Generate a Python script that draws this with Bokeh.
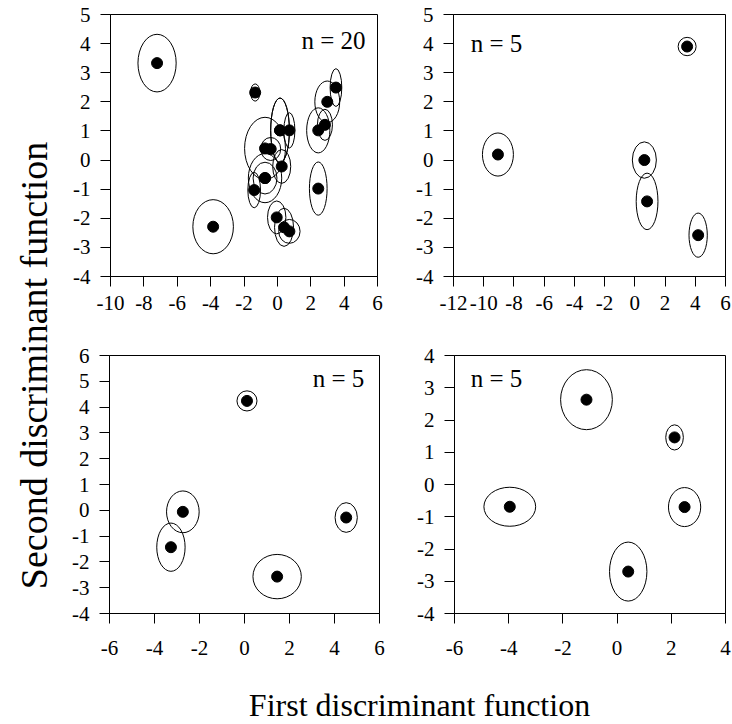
import math
from bokeh.plotting import figure
from bokeh.layouts import row, column
from bokeh.models import FixedTicker, Label, ColumnDataSource, CustomJSTickFormatter
from bokeh.embed import file_html
from bokeh.resources import INLINE

FONT = "Liberation Serif"
TICK_FONT = "'Liberation Serif', 'Times New Roman', serif"

# ---------------- data ----------------
# Panel 1 (n = 20)
p1_x = [-7.21, -3.85, -1.33, 2.45, 2.85, 2.99, 3.51, 2.45, 0.16, 0.72,
        -0.74, -0.40, 0.26, -0.74, -0.74, -1.39, -0.04, 0.40, 0.72, 0.16]
p1_y = [3.33, -2.29, 2.32, 1.02, 1.21, 2.00, 2.49, -0.98, 1.02, 1.02,
        0.40, 0.38, -0.22, -0.62, -0.62, -1.03, -1.97, -2.31, -2.45, 1.02]
p1_w = [2.29, 2.43, 0.56, 1.39, 0.90, 1.49, 0.70, 1.06, 1.12, 0.66,
        2.45, 1.20, 1.08, 1.43, 2.00, 0.76, 1.10, 1.14, 1.28, 1.12]
p1_h = [1.98, 1.86, 0.59, 1.55, 1.07, 1.43, 1.30, 1.83, 2.22, 1.21,
        2.14, 0.79, 1.16, 1.09, 1.69, 1.22, 1.13, 1.31, 0.82, 2.22]

# Panel 2 (n = 5)
p2_x = [3.46, -9.06, 0.63, 0.81, 4.19]
p2_y = [3.90, 0.19, 0.00, -1.42, -2.58]
p2_w = [1.19, 2.05, 1.59, 1.44, 1.21]
p2_h = [0.63, 1.48, 1.25, 1.94, 1.52]

# Panel 3 (n = 5)
p3_x = [0.11, -2.74, -3.27, 1.45, 4.52]
p3_y = [4.24, -0.06, -1.43, -2.57, -0.28]
p3_w = [0.89, 1.45, 1.26, 2.15, 0.99]
p3_h = [0.78, 1.62, 1.87, 1.72, 1.15]

# Panel 4 (n = 5)
p4_x = [-1.13, 2.12, -3.96, 2.49, 0.41]
p4_y = [2.63, 1.46, -0.69, -0.70, -2.70]
p4_w = [1.91, 0.65, 1.91, 1.19, 1.38]
p4_h = [1.86, 0.78, 1.21, 1.21, 1.83]

p1_xticks = [-10, -8, -6, -4, -2, 0, 2, 4, 6]
p1_yticks = [-4, -3, -2, -1, 0, 1, 2, 3, 4, 5]
p2_xticks = [-12, -10, -8, -6, -4, -2, 0, 2, 4, 6]
p2_yticks = [-4, -3, -2, -1, 0, 1, 2, 3, 4, 5]
p3_xticks = [-6, -4, -2, 0, 2, 4, 6]
p3_yticks = [-4, -3, -2, -1, 0, 1, 2, 3, 4, 5, 6]
p4_xticks = [-6, -4, -2, 0, 2, 4]
p4_yticks = [-4, -3, -2, -1, 0, 1, 2, 3, 4]

n_labels = ["n = 20", "n = 5", "n = 5", "n = 5"]
x_title = "First discriminant function"
y_title = "Second discriminant function"


def panel(xs, ys, ws, hs, xticks, yticks, label, label_pos,
          width, height, bl, br, bt, bb, xstand):
    p = figure(width=width, height=height,
               x_range=(xticks[0], xticks[-1]), y_range=(yticks[0], yticks[-1]),
               toolbar_location=None, output_backend="svg",
               min_border_left=bl, min_border_right=br,
               min_border_top=bt, min_border_bottom=bb)
    p.grid.visible = False
    p.outline_line_color = "black"
    p.outline_line_width = 1
    p.background_fill_color = "white"
    p.border_fill_color = "white"
    for ax, ticks in ((p.xaxis[0], xticks), (p.yaxis[0], yticks)):
        ax.ticker = FixedTicker(ticks=ticks)
        ax.formatter = CustomJSTickFormatter(code="return tick.toString();")
        ax.minor_tick_line_color = None
        ax.major_tick_in = 0
        ax.major_tick_out = 10
        ax.major_tick_line_color = "black"
        ax.axis_line_color = "black"
        ax.major_label_text_font = TICK_FONT
        ax.major_label_text_font_size = "21px"
        ax.major_label_text_color = "black"
    p.xaxis[0].major_label_standoff = xstand
    p.yaxis[0].major_label_standoff = 10
    src = ColumnDataSource(dict(x=xs, y=ys, w=ws, h=hs))
    p.ellipse(x="x", y="y", width="w", height="h", source=src,
              fill_color=None, line_color="black", line_width=1)
    p.scatter(x="x", y="y", source=src, size=11, color="black")
    p.add_layout(Label(x=label_pos[0], y=label_pos[1], text=label,
                       text_font=FONT, text_font_size="25px",
                       text_align="center", text_baseline="middle",
                       text_color="black"))
    return p


p1 = panel(p1_x, p1_y, p1_w, p1_h, p1_xticks, p1_yticks, n_labels[0], (3.36, 4.12),
           335, 335, 50, 18, 14, 55, 9)
p2 = panel(p2_x, p2_y, p2_w, p2_h, p2_xticks, p2_yticks, n_labels[1], (-9.15, 4.01),
           337, 335, 58, 7, 11, 59, 9)
p3 = panel(p3_x, p3_y, p3_w, p3_h, p3_xticks, p3_yticks, n_labels[2], (4.18, 5.12),
           335, 340, 49, 16, 20, 58, 17)
p4 = panel(p4_x, p4_y, p4_w, p4_h, p4_xticks, p4_yticks, n_labels[3], (-4.45, 3.29),
           337, 340, 59, 7, 20, 62, 17)


def blank(width, height):
    p = figure(width=width, height=height, x_range=(0, 1), y_range=(0, 1),
               toolbar_location=None, output_backend="svg", min_border=0)
    p.axis.visible = False
    p.grid.visible = False
    p.outline_line_color = None
    return p


ty = blank(60, 722)
ty.add_layout(Label(x=33, y=357, x_units="screen", y_units="screen",
                    text=y_title, angle=math.pi / 2, text_font=FONT,
                    text_font_size="38px", text_align="center",
                    text_baseline="middle", text_color="black"))

tx = blank(672, 47)
tx.add_layout(Label(x=359, y=18, x_units="screen", y_units="screen",
                    text=x_title, text_font=FONT, text_font_size="32px",
                    text_align="center", text_baseline="middle",
                    text_color="black"))

layout = row(ty, column(row(p1, p2), row(p3, p4), tx))

open("out.html", "w").write(file_html(layout, INLINE))
